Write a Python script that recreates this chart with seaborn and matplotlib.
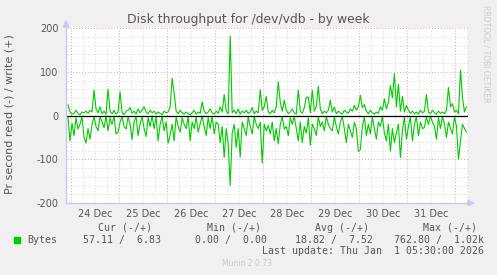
import matplotlib
matplotlib.use("Agg")
import matplotlib.pyplot as plt
import matplotlib.dates as mdates
import numpy as np
import pandas as pd
import seaborn as sns

# ---- data (hourly averages) ----
end_time = "2026-01-01 05:30"
n_points = 200

write_bytes = [
    25, 8, 3, 5, 12, 4, 2, 8, 6, 10,
    5, 12, 8, 58, 15, 6, 20, 4, 10, 3,
    60, 10, 4, 12, 3, 8, 54, 6, 2, 10,
    12, 18, 5, 10, 3, 15, 6, 12, 20, 8,
    4, 12, 6, 10, 3, 8, 5, 2, 10, 6,
    8, 20, 85, 52, 10, 4, 12, 6, 3, 8,
    4, 2, 6, 12, 3, 8, 5, 31, 10, 4,
    8, 15, 6, 3, 10, 5, 20, 8, 48, 10,
    4, 182, 6, 12, 4, 15, 3, 10, 6, 12,
    5, 8, 18, 4, 10, 6, 59, 12, 20, 44,
    8, 4, 12, 6, 20, 77, 30, 10, 35, 12,
    4, 8, 15, 6, 3, 58, 10, 5, 18, 42,
    42, 6, 58, 10, 20, 67, 15, 4, 10, 6,
    12, 35, 8, 19, 4, 10, 6, 3, 12, 8,
    5, 15, 10, 23, 12, 20, 46, 18, 25, 10,
    4, 12, 6, 3, 8, 5, 20, 12, 38, 15,
    30, 69, 40, 96, 20, 71, 10, 44, 8, 23,
    12, 5, 10, 4, 8, 3, 12, 6, 10, 48,
    8, 4, 12, 6, 3, 10, 5, 8, 4, 12,
    64, 20, 27, 8, 12, 4, 104, 40, 8, 20,
]

read_bytes = [
    3, 58, 18, 46, 5, 31, 20, 2, 50, 63,
    30, 54, 20, 3, 25, 35, 2, 15, 28, 1,
    35, 5, 20, 1, 42, 38, 15, 2, 25, 31,
    3, 20, 55, 15, 2, 46, 20, 3, 30, 48,
    5, 25, 1, 30, 3, 58, 20, 2, 35, 15,
    63, 45, 20, 58, 3, 25, 38, 5, 20, 30,
    2, 58, 15, 30, 3, 38, 20, 1, 25, 46,
    5, 30, 2, 42, 15, 20, 62, 25, 96, 30,
    65, 160, 40, 20, 73, 30, 95, 15, 30, 46,
    3, 25, 42, 2, 20, 30, 15, 109, 20, 35,
    23, 42, 15, 58, 30, 65, 20, 3, 31, 25,
    46, 5, 20, 2, 30, 58, 15, 62, 25, 40,
    5, 68, 20, 30, 46, 3, 25, 15, 35, 2,
    20, 30, 35, 3, 25, 42, 15, 2, 30, 62,
    20, 35, 50, 15, 30, 82, 78, 25, 3, 46,
    20, 42, 3, 30, 54, 15, 25, 2, 40, 58,
    20, 81, 30, 62, 40, 20, 96, 35, 3, 54,
    25, 3, 58, 20, 2, 46, 15, 30, 27, 3,
    20, 2, 15, 25, 54, 5, 30, 2, 20, 50,
    15, 30, 42, 3, 25, 100, 58, 20, 30, 38,
]

y_ticks = [-200, -100, 0, 100, 200]
legend_name = "Bytes"
cur_vals = "57.11 /  6.83"
min_vals = "0.00 /  0.00"
avg_vals = "18.82 /  7.52"
max_vals = "762.80 /  1.02k"
title = "Disk throughput for /dev/vdb - by week"
ylabel = "Pr second read (-) / write (+)"
last_update = "Last update: Thu Jan  1 05:30:00 2026"
footer = "Munin 2.0.73"
side_text = "RRDTOOL / TOBI OETIKER"

# ---- build frame ----
times = pd.date_range(end=end_time, periods=n_points, freq="h")
df = pd.concat([
    pd.DataFrame({"time": times, "value": write_bytes, "series": "write"}),
    pd.DataFrame({"time": times, "value": -np.array(read_bytes), "series": "read"}),
])

sns.set_style("white")
plt.rcParams["font.family"] = ["DejaVu Sans"]
plt.rcParams["axes.unicode_minus"] = False

W, H = 497, 275
fig = plt.figure(figsize=(W / 100, H / 100), dpi=100, facecolor="#F0F0F0")
ax = fig.add_axes([67 / W, 1 - 203 / H, 401 / W, 175 / H])
ax.set_facecolor("white")

GREEN = "#00CC00"
AXC = "#C8C8F2"
TXT = "#555555"

sns.lineplot(data=df, x="time", y="value", hue="series",
             palette={"write": GREEN, "read": GREEN}, legend=False,
             estimator=None, linewidth=0.8, ax=ax, zorder=3)
ax.axhline(0, color="black", lw=0.9, zorder=4)

x0 = pd.Timestamp("2025-12-23 22:00")
x1 = pd.Timestamp("2026-01-01 06:15")
ax.set_xlim(x0, x1)
ax.set_ylim(-200, 200)

# grid
dots = (0, (1, 2))
for yv in range(-180, 200, 20):
    if yv % 100 != 0:
        ax.axhline(yv, color="#D8D8D8", lw=0.7, ls=dots, zorder=1)
for yv in (100, 200, -100):
    ax.axhline(yv, color="#EBA0A0", lw=0.7, ls=dots, zorder=2, clip_on=False)
six_h = pd.date_range("2025-12-24 00:00", "2026-01-01 06:00", freq="6h")
for t in six_h:
    if t.hour != 0:
        ax.axvline(t, color="#D8D8D8", lw=0.7, ls=dots, zorder=1)
days = pd.date_range("2025-12-24", "2026-01-01", freq="D")
for t in days:
    ax.axvline(t, color="#EBA0A0", lw=0.7, ls=dots, zorder=2)

# ticks
ax.set_yticks(y_ticks)
ax.set_yticklabels([str(v) for v in y_ticks])
ax.xaxis.set_major_locator(mdates.HourLocator(byhour=[12]))
ax.xaxis.set_major_formatter(mdates.DateFormatter("%d %b"))
ax.xaxis.set_minor_locator(mdates.HourLocator(byhour=[0, 6, 18]))
ax.tick_params(axis="x", which="major", length=0, pad=4.5, labelsize=7, labelcolor=TXT)
ax.tick_params(axis="x", which="minor", length=2.5, width=0.6, color="#C8C8C8")
ax.tick_params(axis="y", length=2, width=0.6, color="#C8C8C8", pad=3,
               labelsize=7, labelcolor=TXT)
for lab in ax.get_xticklabels():
    lab.set_fontsize(7)
ax.set_xlabel("")
ax.set_ylabel("")

for s in ("top", "right"):
    ax.spines[s].set_visible(False)
for s in ("left", "bottom"):
    ax.spines[s].set_color(AXC)
    ax.spines[s].set_linewidth(1.0)
    ax.spines[s].set_zorder(5)
ax.spines["left"].set_position(("outward", 1))

# axis arrows
fig.patches.append(plt.Polygon([[66 / W, 1 - 21 / H], [63.5 / W, 1 - 27 / H], [68.5 / W, 1 - 27 / H]],
                               closed=True, transform=fig.transFigure, color=AXC))
fig.patches.append(plt.Polygon([[474 / W, 1 - 203 / H], [468 / W, 1 - 200.5 / H], [468 / W, 1 - 205.5 / H]],
                               closed=True, transform=fig.transFigure, color=AXC))

# texts
fig.text(248 / W, 1 - 19 / H, title, ha="center", va="center", fontsize=8.9, color=TXT)
fig.text(10 / W, 1 - 114 / H, ylabel, ha="center", va="center", rotation=90,
         fontsize=8, color=TXT)
fig.text(486 / W, 1 - 5 / H, side_text, ha="center", va="top", rotation=-90,
         fontsize=5.5, color="#CCCCCC")

mono = "DejaVu Sans Mono"
fs = 7.1
row1 = 1 - 228 / H
row2 = 1 - 240 / H
fig.text(125 / W, row1, "Cur (-/+)", ha="center", va="center", family=mono, fontsize=fs, color=TXT)
fig.text(234 / W, row1, "Min (-/+)", ha="center", va="center", family=mono, fontsize=fs, color=TXT)
fig.text(342 / W, row1, "Avg (-/+)", ha="center", va="center", family=mono, fontsize=fs, color=TXT)
fig.text(450 / W, row1, "Max (-/+)", ha="center", va="center", family=mono, fontsize=fs, color=TXT)
fig.patches.append(plt.Rectangle((14 / W, 1 - 242.5 / H), 5.5 / W, 5.5 / H,
                                 transform=fig.transFigure, color=GREEN))
fig.text(27 / W, row2, legend_name, ha="left", va="center", family=mono, fontsize=fs, color=TXT)
fig.text(161 / W, row2, cur_vals, ha="right", va="center", family=mono, fontsize=fs, color=TXT)
fig.text(267 / W, row2, min_vals, ha="right", va="center", family=mono, fontsize=fs, color=TXT)
fig.text(373 / W, row2, avg_vals, ha="right", va="center", family=mono, fontsize=fs, color=TXT)
fig.text(484 / W, row2, max_vals, ha="right", va="center", family=mono, fontsize=fs, color=TXT)
fig.text(484 / W, 1 - 251.5 / H, last_update, ha="right", va="center", family=mono,
         fontsize=fs, color=TXT)
fig.text(247 / W, 1 - 264 / H, footer, ha="center", va="center", fontsize=5.5, color="#C8C8C8")

fig.savefig("out.png", dpi=100, facecolor=fig.get_facecolor())
